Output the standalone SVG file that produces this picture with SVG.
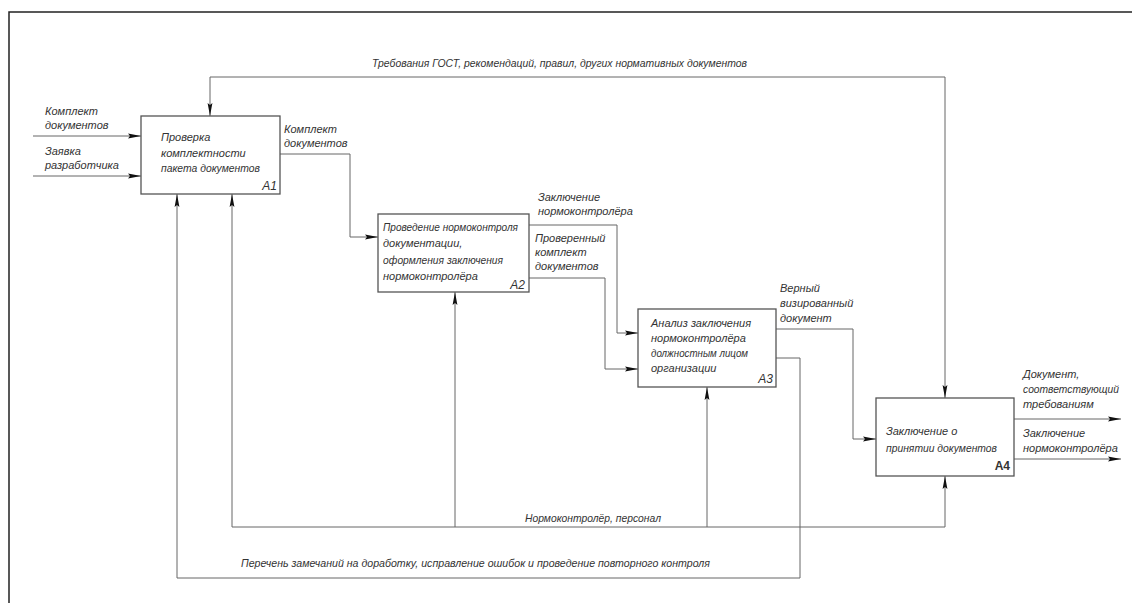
<svg xmlns="http://www.w3.org/2000/svg" width="1132" height="603" viewBox="0 0 1132 603">
<style>
.t{font-family:"Liberation Sans",Arial,sans-serif;font-style:italic;font-size:11px;fill:#333}
.box{fill:#fff;stroke:#555;stroke-width:1.3}
.c{fill:none;stroke:#666;stroke-width:1}
.a{fill:none;stroke:#666;stroke-width:1;marker-end:url(#ah)}
.lbl{font-family:"Liberation Sans",Arial,sans-serif;font-style:italic;font-size:12px;fill:#333;text-anchor:end}
</style>
<defs>
<marker id="ah" markerUnits="userSpaceOnUse" markerWidth="14" markerHeight="6" refX="13" refY="3" orient="auto">
<path d="M0,0.6 L13,3 L0,5.4 L2,3 z" fill="#111"/>
</marker>
</defs>
<rect x="0" y="0" width="1132" height="603" fill="#fff"/>
<rect x="9" y="12" width="1140" height="620" fill="none" stroke="#222" stroke-width="1.5"/>

<g id="connectors">
<path class="a" d="M578,77 H210 V116"/>
<path class="a" d="M578,77 H945 V398"/>
<path class="a" d="M33,136 H141"/>
<path class="a" d="M33,176 H141"/>
<path class="a" d="M280,154 H350 V237 H378"/>
<path class="a" d="M529,225 H617 V333 H638"/>
<path class="a" d="M529,278 H605 V369 H638"/>
<path class="a" d="M776,329 H853 V439 H876"/>
<path class="a" d="M776,358 H800 V578 H177 V194"/>
<path class="a" d="M945,527 H232 V194"/>
<path class="a" d="M455,527 V292"/>
<path class="a" d="M707,527 V387"/>
<path class="a" d="M945,527 V476"/>
<path class="a" d="M1014,419 H1121"/>
<path class="a" d="M1014,459 H1121"/>
<text class="t" x="372" y="67" textLength="375" lengthAdjust="spacingAndGlyphs">Требования ГОСТ, рекомендаций, правил, других нормативных документов</text>
<text class="t" x="45" y="115">Комплект</text>
<text class="t" x="45" y="129">документов</text>
<text class="t" x="45" y="155">Заявка</text>
<text class="t" x="45" y="169">разработчика</text>
<text class="t" x="284" y="133">Комплект</text>
<text class="t" x="284" y="147">документов</text>
<text class="t" x="538" y="201">Заключение</text>
<text class="t" x="538" y="215">нормоконтролёра</text>
<text class="t" x="535" y="242">Проверенный</text>
<text class="t" x="535" y="256">комплект</text>
<text class="t" x="535" y="270">документов</text>
<text class="t" x="780" y="292">Верный</text>
<text class="t" x="780" y="307">визированный</text>
<text class="t" x="780" y="322">документ</text>
<text class="t" x="1023" y="378">Документ,</text>
<text class="t" x="1023" y="393" textLength="96" lengthAdjust="spacingAndGlyphs">соответствующий</text>
<text class="t" x="1023" y="408">требованиям</text>
<text class="t" x="1023" y="437">Заключение</text>
<text class="t" x="1023" y="452">нормоконтролёра</text>
<text class="t" x="525" y="522" textLength="136" lengthAdjust="spacingAndGlyphs">Нормоконтролёр, персонал</text>
<text class="t" x="241" y="567" textLength="469" lengthAdjust="spacingAndGlyphs">Перечень замечаний на доработку, исправление ошибок и проведение повторного контроля</text>
</g>

<g id="A1">
<rect class="box" x="141" y="116" width="139" height="78"/>
<text class="t" x="161" y="141">Проверка</text>
<text class="t" x="161" y="157">комплектности</text>
<text class="t" x="161" y="172" textLength="99" lengthAdjust="spacingAndGlyphs">пакета документов</text>
<text class="lbl" x="277" y="190">A1</text>
</g>

<g id="A2">
<rect class="box" x="378" y="214" width="151" height="78"/>
<text class="t" x="383" y="231" textLength="135" lengthAdjust="spacingAndGlyphs">Проведение нормоконтроля</text>
<text class="t" x="383" y="247">документации,</text>
<text class="t" x="383" y="264" textLength="120" lengthAdjust="spacingAndGlyphs">оформления заключения</text>
<text class="t" x="383" y="280">нормоконтролёра</text>
<text class="lbl" x="525" y="289">A2</text>
</g>

<g id="A3">
<rect class="box" x="638" y="309" width="138" height="78"/>
<text class="t" x="651" y="327">Анализ заключения</text>
<text class="t" x="651" y="342">нормоконтролёра</text>
<text class="t" x="651" y="357" textLength="97" lengthAdjust="spacingAndGlyphs">должностным лицом</text>
<text class="t" x="651" y="372">организации</text>
<text class="lbl" x="773" y="383">A3</text>
</g>

<g id="A4">
<rect class="box" x="876" y="398" width="138" height="78"/>
<text class="t" x="886" y="435">Заключение о</text>
<text class="t" x="886" y="452" textLength="111" lengthAdjust="spacingAndGlyphs">принятии документов</text>
<text class="lbl" x="1010" y="470" style="font-weight:bold;font-style:normal">A4</text>
</g>
</svg>
